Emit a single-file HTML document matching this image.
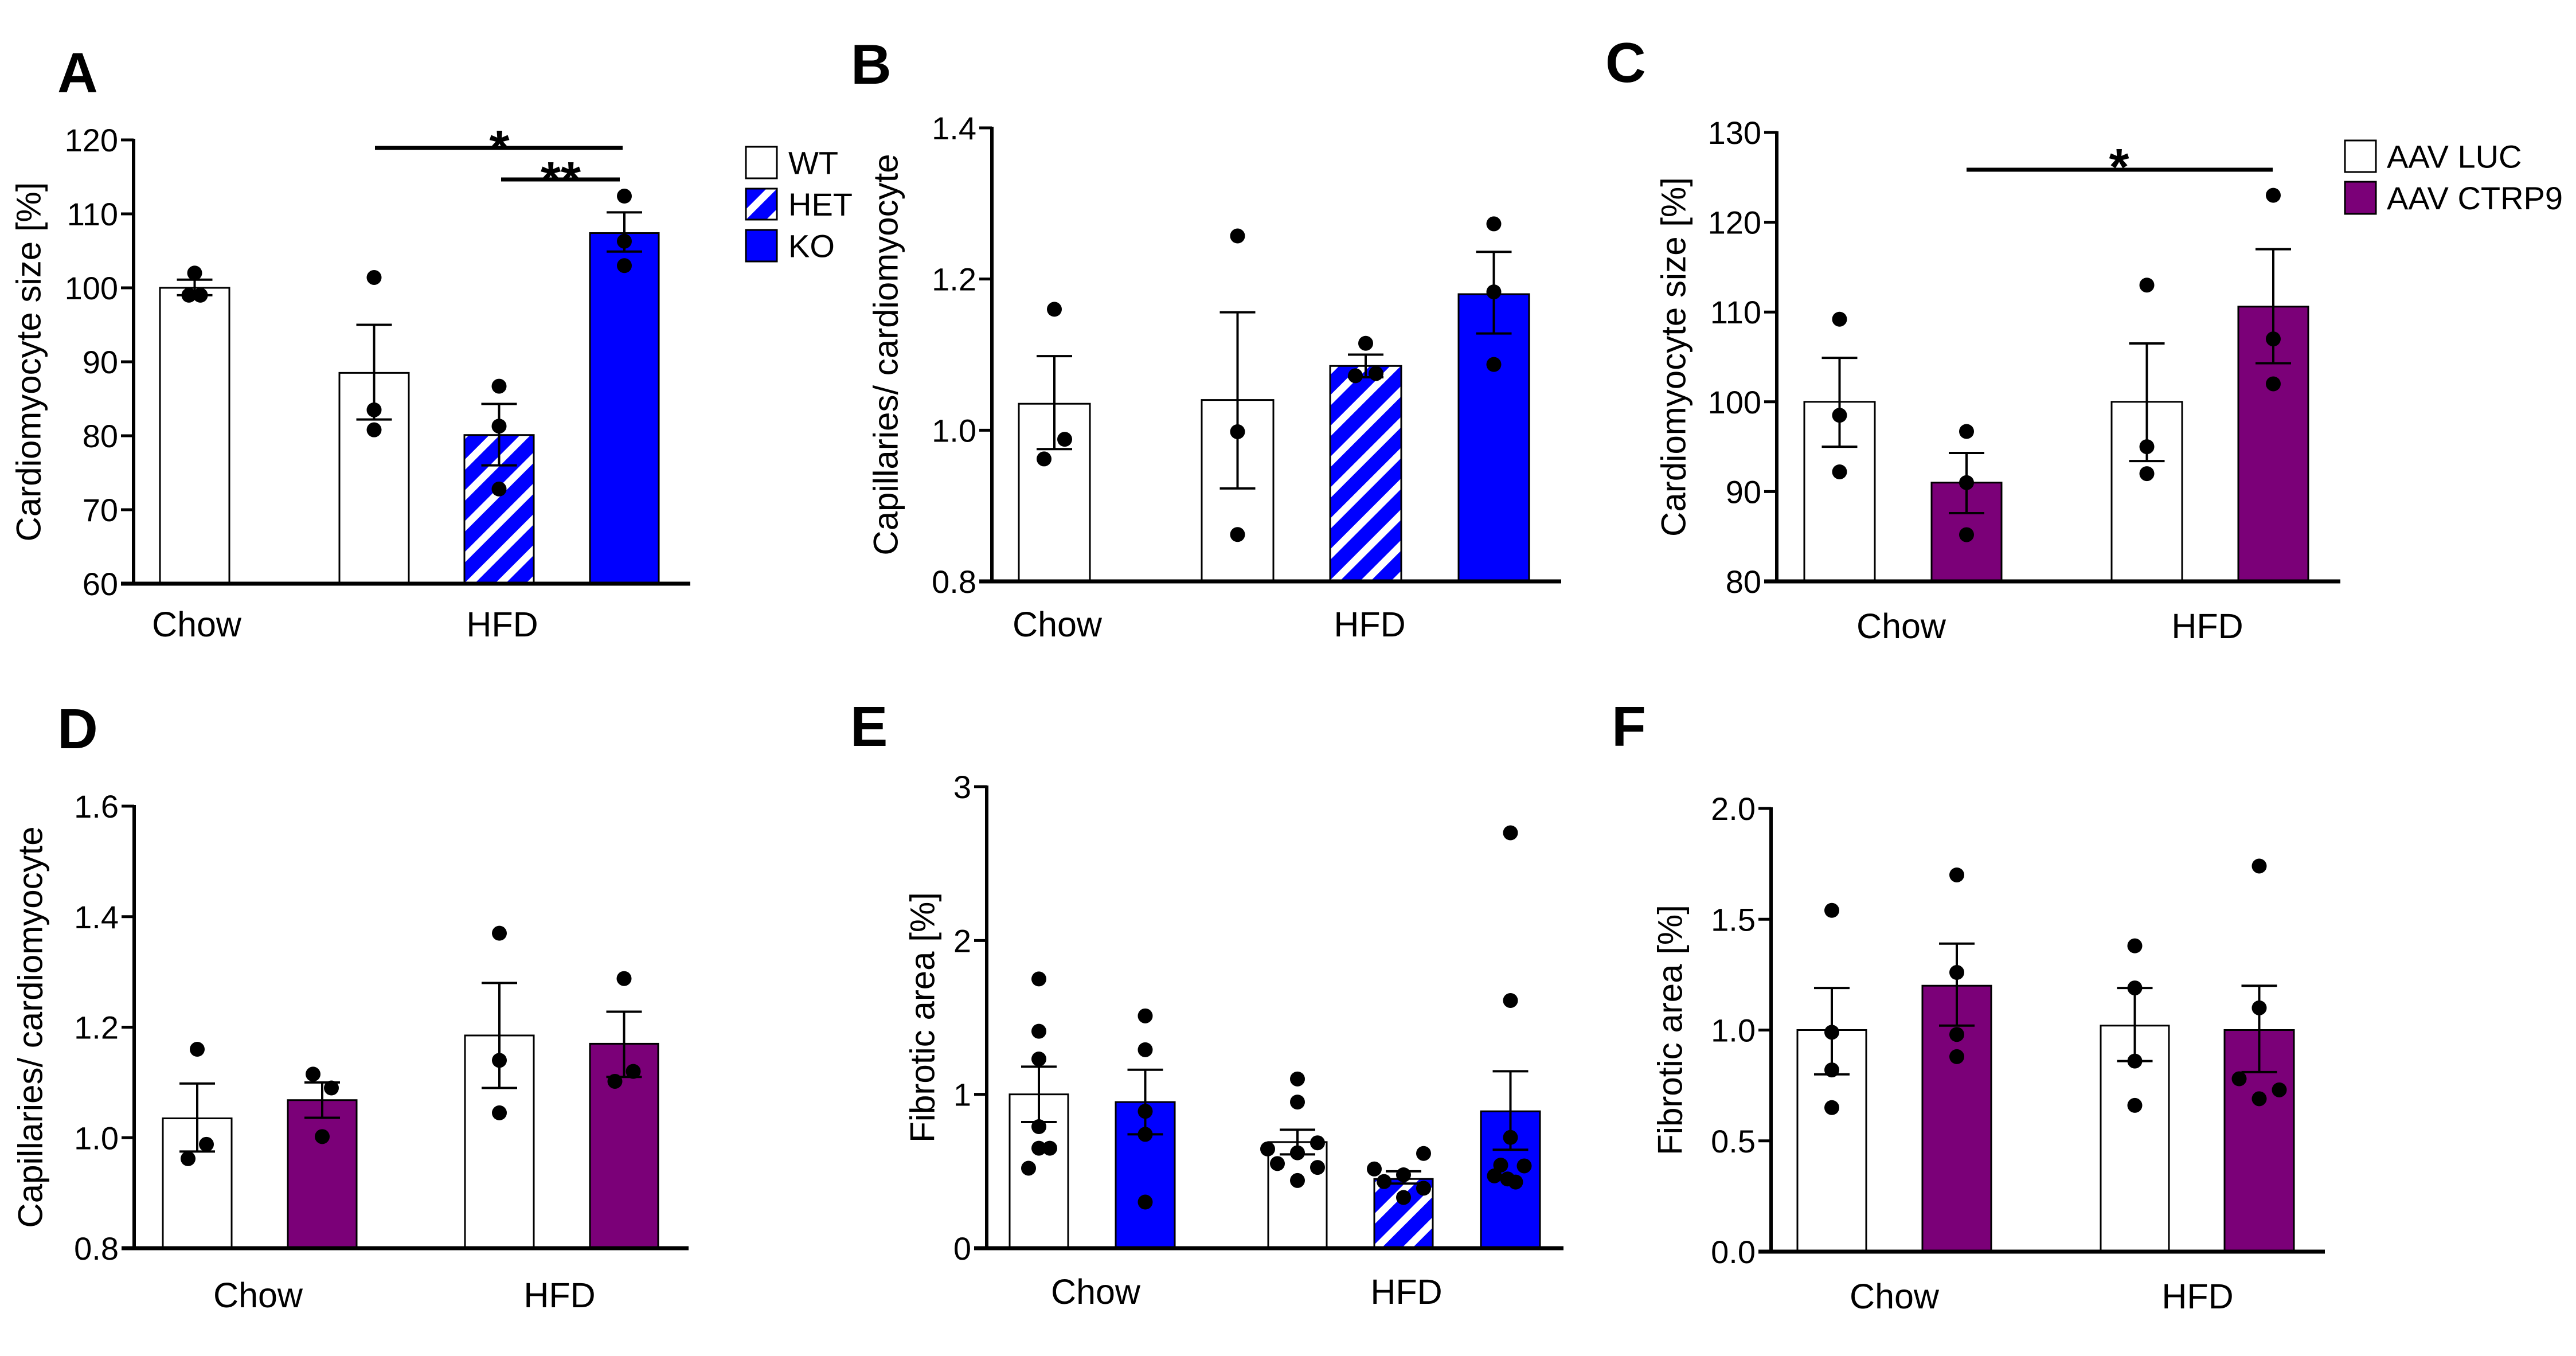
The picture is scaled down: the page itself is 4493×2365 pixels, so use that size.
<!DOCTYPE html>
<html><head><meta charset="utf-8">
<style>
html,body{margin:0;padding:0;background:#fff;}
svg{display:block;font-family:"Liberation Sans",Arial,sans-serif;}
</style></head>
<body>
<svg id="fig" xmlns="http://www.w3.org/2000/svg" width="4493" height="2365" viewBox="0 0 4493 2365">
<defs>
<pattern id="hatch" patternUnits="userSpaceOnUse" width="38" height="38" patternTransform="rotate(45)">
<rect width="38" height="38" fill="#0000ff"/>
<rect x="0" y="0" width="13" height="38" fill="#ffffff"/>
</pattern>
</defs>
</svg>
<script>
// ---------- Panel A data ----------
const aCategories = ["Chow WT","HFD WT","HFD HET","HFD KO"];
const aMeans = [100, 88.5, 80.1, 107.4];
const aErrLow = [99.0, 82.2, 76.0, 104.9];
const aErrHigh = [101.1, 95.0, 84.3, 110.2];
const aPoints = [[102, 99, 99],[101.4, 83.5, 80.8],[86.7, 81.3, 72.8],[112.4, 106.3, 103]];
const aTicks = [60,70,80,90,100,110,120];
const aTickLabels = ["60","70","80","90","100","110","120"];
// ---------- Panel B data ----------
const bCategories = ["Chow WT","HFD WT","HFD HET","HFD KO"];
const bMeans = [1.035, 1.04, 1.085, 1.18];
const bErrLow = [0.975, 0.923, 1.07, 1.128];
const bErrHigh = [1.098, 1.156, 1.10, 1.236];
const bPoints = [[1.16, 0.988, 0.962],[1.257, 0.998, 0.862],[1.115, 1.072, 1.075],[1.273, 1.183, 1.087]];
const bTicks = [0.8,1.0,1.2,1.4];
const bTickLabels = ["0.8","1.0","1.2","1.4"];
// ---------- Panel C data ----------
const cCategories = ["Chow LUC","Chow CTRP9","HFD LUC","HFD CTRP9"];
const cMeans = [100, 91, 100, 110.6];
const cErrLow = [95, 87.6, 93.4, 104.3];
const cErrHigh = [104.9, 94.3, 106.5, 117];
const cPoints = [[109.2, 98.5, 92.2],[96.7, 91, 85.2],[113, 95, 92],[123, 107, 102]];
const cTicks = [80,90,100,110,120,130];
const cTickLabels = ["80","90","100","110","120","130"];
// ---------- Panel D data ----------
const dCategories = ["Chow LUC","Chow CTRP9","HFD LUC","HFD CTRP9"];
const dMeans = [1.035, 1.068, 1.185, 1.17];
const dErrLow = [0.975, 1.036, 1.09, 1.11];
const dErrHigh = [1.098, 1.10, 1.28, 1.228];
const dPoints = [[1.16, 0.988, 0.962],[1.115, 1.09, 1.002],[1.37, 1.14, 1.045],[1.288, 1.12, 1.102]];
const dTicks = [0.8,1.0,1.2,1.4,1.6];
const dTickLabels = ["0.8","1.0","1.2","1.4","1.6"];
// ---------- Panel E data ----------
const eCategories = ["Chow WT","Chow KO","HFD WT","HFD HET","HFD KO"];
const eMeans = [1.0, 0.95, 0.69, 0.45, 0.89];
const eErrLow = [0.82, 0.74, 0.61, 0.42, 0.64];
const eErrHigh = [1.18, 1.16, 0.77, 0.50, 1.15];
const ePoints = [[1.75,1.41,1.23,0.79,0.65,0.65,0.52],[1.51,1.29,0.89,0.74,0.30],[1.10,0.95,0.685,0.645,0.62,0.55,0.525,0.44],[0.616,0.515,0.477,0.433,0.39,0.33],[2.70,1.61,0.72,0.54,0.535,0.47,0.45,0.43]];
const eTicks = [0,1,2,3];
const eTickLabels = ["0","1","2","3"];
// ---------- Panel F data ----------
const fCategories = ["Chow LUC","Chow CTRP9","HFD LUC","HFD CTRP9"];
const fMeans = [1.0, 1.2, 1.02, 1.0];
const fErrLow = [0.80, 1.02, 0.86, 0.81];
const fErrHigh = [1.19, 1.39, 1.19, 1.20];
const fPoints = [[1.54,0.99,0.82,0.65],[1.70,1.26,0.98,0.88],[1.38,1.19,0.86,0.66],[1.74,1.10,0.78,0.73,0.69]];
const fTicks = [0,0.5,1.0,1.5,2.0];
const fTickLabels = ["0.0","0.5","1.0","1.5","2.0"];

const NS = "http://www.w3.org/2000/svg";
const svg = document.getElementById("fig");
function mk(tag, attrs, parent){
  const e = document.createElementNS(NS, tag);
  for (const k in attrs) e.setAttribute(k, attrs[k]);
  (parent||svg).appendChild(e);
  return e;
}
const WHITE="#ffffff", BLUE="#0000ff", PURPLE="#7b0078", HATCH="url(#hatch)";

function panel(cfg){
  const g = mk("g", {});
  
  
  const y = v => cfg.yB + (v - cfg.vmin) / (cfg.vmax - cfg.vmin) * (cfg.yT - cfg.yB);
  const L = mk("text", {x:cfg.lx, y:cfg.ly, "font-size":98, "font-weight":"bold", fill:"#000"}, g);
  L.textContent = cfg.letter;
  
  
  cfg.means.forEach((m, i) => {
    const [x0, x1] = cfg.bars[i];
    const r = mk("rect", {x:x0, y:y(m), width:x1-x0, height:y(cfg.vmin)-y(m), fill:cfg.fills[i], stroke:"#000", "stroke-width":3}, g);
    
    
  });
  cfg.points.forEach((arr, i) => {
    const cx = (cfg.bars[i][0] + cfg.bars[i][1]) / 2;
    arr.forEach((v, j) => {
      const dx = (cfg.jitter && cfg.jitter[i]) ? cfg.jitter[i][j] || 0 : 0;
      const c = mk("circle", {cx:cx+dx, cy:y(v), r:13, fill:"#000"}, g);
      
      
    });
  });
  cfg.means.forEach((m, i) => {
    const cx = (cfg.bars[i][0] + cfg.bars[i][1]) / 2;
    const eg = mk("g", {stroke:"#000", "stroke-width":4}, g);
    
    
    mk("line", {x1:cx, x2:cx, y1:y(cfg.lo[i]), y2:y(cfg.hi[i])}, eg);
    mk("line", {x1:cx-31, x2:cx+31, y1:y(cfg.lo[i]), y2:y(cfg.lo[i])}, eg);
    mk("line", {x1:cx-31, x2:cx+31, y1:y(cfg.hi[i]), y2:y(cfg.hi[i])}, eg);
  });
  const ax = mk("line", {x1:cfg.ax, x2:cfg.ax, y1:cfg.yT-2, y2:cfg.yB+3, stroke:"#000", "stroke-width":6}, g);
  
  
  const xa = mk("line", {x1:cfg.ax-22, x2:cfg.xEnd, y1:cfg.yB, y2:cfg.yB, stroke:"#000", "stroke-width":7}, g);
  
  
  cfg.ticks.forEach((t, i) => {
    mk("line", {x1:cfg.ax-22, x2:cfg.ax, y1:y(t), y2:y(t), stroke:"#000", "stroke-width":5}, g);
    const tl = mk("text", {x:cfg.ax-27, y:y(t)+20, "font-size":56, "text-anchor":"end", fill:"#000"}, g);
    tl.textContent = cfg.tickLabels[i];
    
    
  });
  const ym = (cfg.yT + cfg.yB) / 2, tx = cfg.ax - cfg.tOff;
  const yt = mk("text", {x:tx, y:ym, "font-size":60, "text-anchor":"middle", "dominant-baseline":"central", transform:`rotate(-90 ${tx} ${ym})`, fill:"#000"}, g);
  yt.textContent = cfg.title;
  
  
  cfg.groups.forEach(gr => {
    const t = mk("text", {x:gr[1], y:cfg.gy, "font-size":61, "text-anchor":"middle", fill:"#000"}, g);
    t.textContent = gr[0];
    
    
  });
  return {g, y};
}

function legend(items, bx, ys, tx){
  const lg = mk("g", {});
  
  
  items.forEach((it, i) => {
    const e = mk("g", {}, lg);
    
    
    mk("rect", {x:bx, y:ys[i][0], width:54, height:ys[i][1]-ys[i][0], fill:it[1], stroke:"#000", "stroke-width":3}, e);
    const t = mk("text", {x:tx, y:(ys[i][0]+ys[i][1])/2+20, "font-size":56, fill:"#000"}, e);
    t.textContent = it[0];
  });
}
function sig(x1, x2, ly, label, sx, sy, parent){
  const s = mk("g", {}, parent);
  
  
  mk("line", {x1, x2, y1:ly, y2:ly, stroke:"#000", "stroke-width":7}, s);
  const t = mk("text", {x:sx, y:sy, "font-size":90, "font-weight":"bold", "text-anchor":"middle", fill:"#000"}, s);
  t.textContent = label;
}

const pA = panel({letter:"A", lx:100, ly:161, ax:233, yT:244, yB:1018, xEnd:1204, vmin:60, vmax:120,
  ticks:aTicks, tickLabels:aTickLabels, means:aMeans, lo:aErrLow, hi:aErrHigh, points:aPoints, cats:aCategories,
  bars:[[279,400],[592,713],[810,931],[1029,1149]], fills:[WHITE,WHITE,HATCH,BLUE],
  jitter:[[0,-10,10]], title:"Cardiomyocyte size [%]", tOff:183,
  groups:[["Chow",343],["HFD",876]], gy:1110});
sig(654,1086,258,"*",871,290,pA.g);
sig(874,1081,313,"**",978,345,pA.g);
legend([["WT",WHITE],["HET",HATCH],["KO",BLUE]],1301,[[256,311],[329,383],[401,456]],1375);

panel({letter:"B", lx:1484, ly:146, ax:1730, yT:223, yB:1014, xEnd:2723, vmin:0.8, vmax:1.4,
  ticks:bTicks, tickLabels:bTickLabels, means:bMeans, lo:bErrLow, hi:bErrHigh, points:bPoints, cats:bCategories,
  bars:[[1777,1901],[2096,2221],[2320,2444],[2544,2667]], fills:[WHITE,WHITE,HATCH,BLUE],
  jitter:[[0,18,-18],null,[0,-18,18]], title:"Capillaries/ cardiomyocyte", tOff:185,
  groups:[["Chow",1844],["HFD",2389]], gy:1110});

const pC = panel({letter:"C", lx:2800, ly:143, ax:3099, yT:231, yB:1014, xEnd:4082, vmin:80, vmax:130,
  ticks:cTicks, tickLabels:cTickLabels, means:cMeans, lo:cErrLow, hi:cErrHigh, points:cPoints, cats:cCategories,
  bars:[[3147,3270],[3369,3491],[3683,3806],[3904,4026]], fills:[WHITE,PURPLE,WHITE,PURPLE],
  title:"Cardiomyocyte size [%]", tOff:180,
  groups:[["Chow",3316],["HFD",3850]], gy:1113});
sig(3430,3964,296,"*",3696,322,pC.g);
legend([["AAV LUC",WHITE],["AAV CTRP9",PURPLE]],4090,[[245,300],[317,373]],4163);

panel({letter:"D", lx:100, ly:1305, ax:234, yT:1406, yB:2177, xEnd:1201, vmin:0.8, vmax:1.6,
  ticks:dTicks, tickLabels:dTickLabels, means:dMeans, lo:dErrLow, hi:dErrHigh, points:dPoints, cats:dCategories,
  bars:[[284,404],[502,622],[811,931],[1029,1148]], fills:[WHITE,PURPLE,WHITE,PURPLE],
  jitter:[[0,16,-16],[-16,16,0],null,[0,16,-16]], title:"Capillaries/ cardiomyocyte", tOff:181,
  groups:[["Chow",450],["HFD",976]], gy:2280});

panel({letter:"E", lx:1483, ly:1301, ax:1721, yT:1372, yB:2177, xEnd:2727, vmin:0, vmax:3,
  ticks:eTicks, tickLabels:eTickLabels, means:eMeans, lo:eErrLow, hi:eErrHigh, points:ePoints, cats:eCategories,
  bars:[[1761,1863],[1946,2049],[2212,2314],[2397,2499],[2583,2686]], fills:[WHITE,BLUE,WHITE,HATCH,BLUE],
  jitter:[[0,0,0,0,0,19,-18],null,[0,0,35,-52,0,-35,35,0],[35,-51,0,-34,35,0],[0,0,0,-17,24,-28,-5,9]],
  title:"Fibrotic area [%]", tOff:112,
  groups:[["Chow",1911],["HFD",2453]], gy:2274});

panel({letter:"F", lx:2811, ly:1301, ax:3089, yT:1410, yB:2183, xEnd:4055, vmin:0, vmax:2,
  ticks:fTicks, tickLabels:fTickLabels, means:fMeans, lo:fErrLow, hi:fErrHigh, points:fPoints, cats:fCategories,
  bars:[[3135,3255],[3353,3473],[3664,3783],[3880,4001]], fills:[WHITE,PURPLE,WHITE,PURPLE],
  jitter:[null,null,null,[0,0,-35,35,0]], title:"Fibrotic area [%]", tOff:176,
  groups:[["Chow",3304],["HFD",3833]], gy:2282});
</script>
</body></html>
